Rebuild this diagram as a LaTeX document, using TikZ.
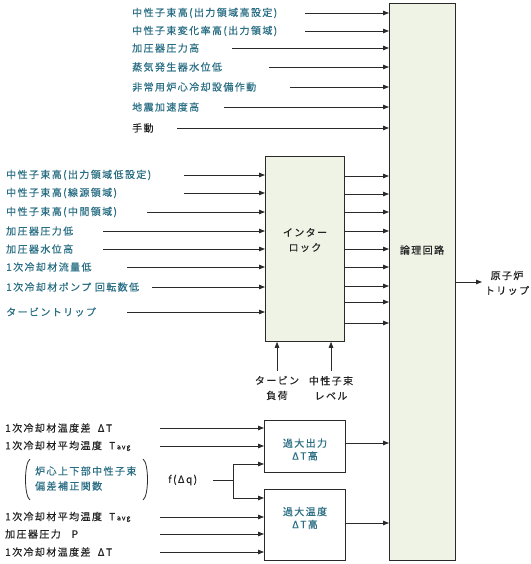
\documentclass[tikz,border=0pt]{standalone}
\usepackage{fontspec}
\setmainfont{Noto Sans CJK JP}[LetterSpace=14,FakeBold=0.5]
\usetikzlibrary{arrows.meta}
\definecolor{tealtx}{HTML}{2A6E84}
\definecolor{boxfill}{HTML}{EEF3E6}
\definecolor{linec}{HTML}{2A2A2A}
\definecolor{darktx}{HTML}{222222}
\begin{document}
\begin{tikzpicture}[x=1pt,y=-1pt,
  arr/.style={draw=linec, line width=0.8pt, -{Triangle[length=6pt,width=4.5pt]}},
  plain/.style={draw=linec, line width=0.8pt},
  lab/.style={anchor=west, inner sep=0pt, font=\fontsize{10}{15}\selectfont, text=tealtx},
  blab/.style={lab, text=darktx},
  ctext/.style={inner sep=0pt, align=center, font=\fontsize{10}{15}\selectfont},
  otext/.style={ctext, text=tealtx, font=\fontsize{10}{12.8}\selectfont},
  bx/.style={draw=linec, line width=0.8pt, fill=boxfill, anchor=north west, inner sep=0pt},
  wbx/.style={bx, fill=white}
]
\useasboundingbox (0,0) rectangle (530,564);

% main boxes
\node[bx, minimum width=66pt, minimum height=557pt] (logic) at (389,3) {};
\node[ctext, text=darktx] (logiclab) at (422,250) {論理回路};
\node[bx, minimum width=79pt, minimum height=185pt] (inter) at (265,156) {};
\node[ctext, text=darktx] (interlab) at (305,240) {インター\\ロック};
\node[wbx, minimum width=81pt, minimum height=52pt] (ot1) at (264,420) {};
\node[otext] (ot1lab) at (305,449.5) {過大出力\\Δ\,T高};
\node[wbx, minimum width=81pt, minimum height=71pt] (ot2) at (264,489) {};
\node[otext] (ot2lab) at (305,518) {過大温度\\Δ\,T高};

% top inputs
\node[lab] (t1) at (132,13) {中性子束高(出力領域高設定)};
\node[lab] (t2) at (132,31) {中性子束変化率高(出力領域)};
\node[lab] (t3) at (132,48) {加圧器圧力高};
\node[lab] (t4) at (132,67) {蒸気発生器水位低};
\node[lab] (t5) at (132,87) {非常用炉心冷却設備作動};
\node[lab] (t6) at (132,107) {地震加速度高};
\node[blab] (t7) at (132,128) {手動};
\coordinate (ts1) at (305,13);
\coordinate (ts2) at (305,31);
\coordinate (ts3) at (232,48);
\coordinate (ts4) at (269,67);
\coordinate (ts5) at (290,87);
\coordinate (ts6) at (224,107);
\coordinate (ts7) at (177,128);
\foreach \i in {1,...,7} {\draw[arr] (ts\i) -- (ts\i -| logic.west);}

% interlock inputs
\node[lab] (m1) at (6,175) {中性子束高(出力領域低設定)};
\node[lab] (m2) at (6,193) {中性子束高(線源領域)};
\node[lab] (m3) at (6,212) {中性子束高(中間領域)};
\node[lab] (m4) at (6,231) {加圧器圧力低};
\node[lab] (m5) at (6,249) {加圧器水位高};
\node[lab] (m6) at (6,267) {1次冷却材流量低};
\node[lab] (m7) at (6,287) {1次冷却材ポンプ 回転数低};
\node[lab] (m8) at (6,312) {タービントリップ};
\coordinate (ms1) at (184,175);
\coordinate (ms2) at (184,193);
\coordinate (ms3) at (147,212);
\coordinate (ms4) at (103,231);
\coordinate (ms5) at (103,249);
\coordinate (ms6) at (127,267);
\coordinate (ms7) at (152,287);
\coordinate (ms8) at (127,312);
\foreach \i in {1,...,8} {\draw[arr] (ms\i) -- (ms\i -| inter.west);}

% interlock outputs
\foreach \y [count=\i] in {176,194,212,231,249,267,286,302,323} {
  \coordinate (io\i) at (344,\y);
  \draw[arr] (io\i) -- (io\i -| logic.west);
}

% interlock bottom inputs
\node[ctext, text=darktx] (tbl) at (277,388) {タービン\\負荷};
\node[ctext, text=darktx] (nfl) at (331,388) {中性子束\\レベル};
\draw[arr, shorten <=5pt] (tbl.north) -- (tbl.north |- inter.south);
\draw[arr, shorten <=5pt] (nfl.north) -- (nfl.north |- inter.south);

% bottom inputs
\node[blab] (b1) at (5,428) {1次冷却材温度差\ \ Δ\,T};
\node[blab] (b2) at (5,446) {1次冷却材平均温度\ \ T\,{\fontsize{7}{8}\selectfont avg}};
\node[lab] (b3) at (35,471) {炉心上下部中性子束};
\node[lab] (b4) at (35,486) {偏差補正関数};
\node[blab] (b5) at (5,517) {1次冷却材平均温度\ \ T\,{\fontsize{7}{8}\selectfont avg}};
\node[blab] (b6) at (5,534) {加圧器圧力\ \ \ P};
\node[blab] (b7) at (5,552) {1次冷却材温度差\ \ Δ\,T};
\draw[plain] (30,459) .. controls (24,463) and (24,496) .. (30,500);
\draw[plain] (143,459) .. controls (149,463) and (149,496) .. (143,500);
\coordinate (bs1) at (160,428);
\coordinate (bs2) at (160,446);
\coordinate (bs5) at (160,517);
\coordinate (bs6) at (160,534);
\coordinate (bs7) at (160,552);
\draw[arr] (bs1) -- (bs1 -| ot1.west);
\draw[arr] (bs2) -- (bs2 -| ot1.west);
\draw[arr] (bs5) -- (bs5 -| ot2.west);
\draw[arr] (bs6) -- (bs6 -| ot2.west);
\draw[arr] (bs7) -- (bs7 -| ot2.west);

% f(dq)
\node[blab] (fq) at (168,480) {f\,(Δ\,q)};
\coordinate (fs) at (213,480);
\coordinate (jm) at (233,480);
\coordinate (j1) at (233,464);
\coordinate (j2) at (233,498);
\draw[plain] (fs) -- (jm);
\draw[arr] (jm) -- (j1) -- (j1 -| ot1.west);
\draw[arr] (jm) -- (j2) -- (j2 -| ot2.west);

% OT outputs
\coordinate (o1) at (345,443);
\coordinate (o2) at (345,523);
\draw[arr] (o1) -- (o1 -| logic.west);
\draw[arr] (o2) -- (o2 -| logic.west);

% trip output
\node[ctext, text=darktx] (trip) at (507,283) {原子炉\\トリップ};
\coordinate (lo) at (455,282);
\coordinate (le) at (482,282);
\draw[arr] (lo) -- (le);
\end{tikzpicture}
\end{document}
